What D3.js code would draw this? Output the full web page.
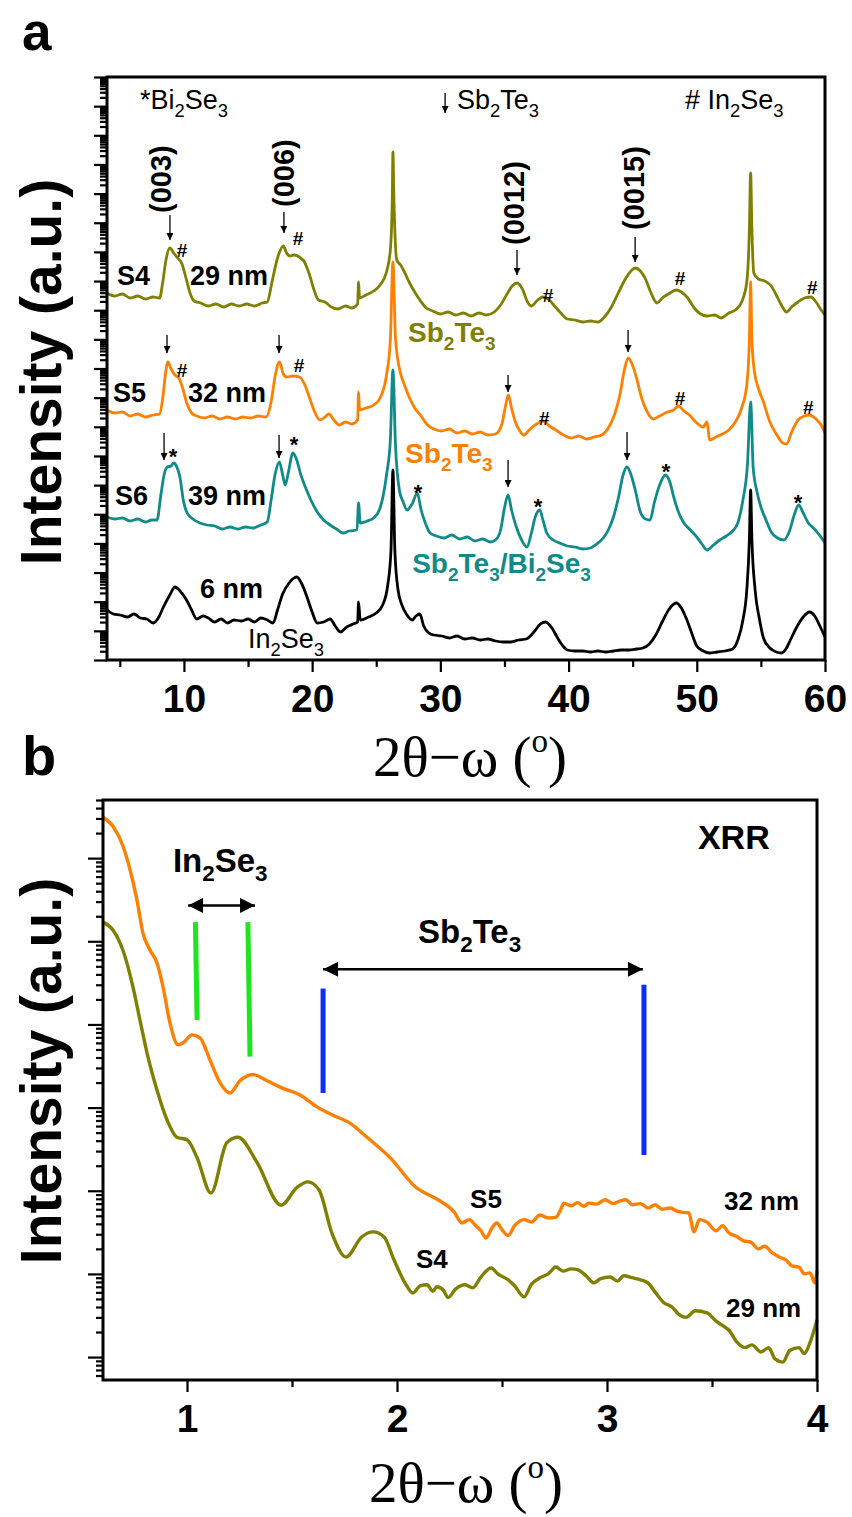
<!DOCTYPE html>
<html lang="en">
<head>
<meta charset="utf-8">
<title>XRD / XRR of Sb2Te3 on In2Se3</title>
<style>
  body { margin: 0; background: #fff; }
  svg text { font-family: "Liberation Sans", Arial, sans-serif; fill: #000; }
  .tick line { stroke: #000; stroke-width: 2.2; }
</style>
</head>
<body>
<script src="https://d3js.org/d3.v7.min.js"></script>
<script>
// ---------- panel a : XRD (2theta, intensity a.u. stacked) ----------
var xrdS4 = [[4.0,367],[4.6,364],[5.2,366],[5.8,362],[6.4,364],[7.0,361],[7.6,363],[8.1,362],[8.35,378],[8.6,400],[8.9,412],[9.2,407],[9.5,402],[9.85,396],[10.2,380],[10.5,366],[10.8,359],[11.3,357],[11.9,354],[12.5,356],[13.1,353],[13.7,356],[14.3,354],[14.9,356],[15.5,354],[16.1,357],[16.5,358],[16.9,380],[17.3,402],[17.75,414],[18.05,406],[18.3,404],[18.6,405],[19.0,403],[19.4,398],[19.8,385],[20.2,368],[20.5,360],[21.0,358],[21.5,353],[22.0,351],[22.6,354],[23.1,352],[23.55,356],[23.62,378],[23.7,362],[24.2,365],[24.8,369],[25.3,375],[25.8,388],[26.1,410],[26.25,460],[26.3,508],[26.38,460],[26.6,400],[26.9,395],[27.2,388],[27.6,377],[28.0,368],[28.4,360],[28.9,352],[29.4,349],[30.0,346],[30.6,348],[31.2,345],[31.8,347],[32.4,344],[33.0,347],[33.6,345],[34.2,348],[34.7,355],[35.2,366],[35.6,374],[36.0,377],[36.4,371],[36.8,358],[37.1,354],[37.6,360],[38.0,363],[38.5,360],[38.9,354],[39.4,347],[39.9,341],[40.5,340],[41.1,338],[41.7,339],[42.3,338],[42.8,343],[43.3,352],[43.8,365],[44.3,378],[44.8,388],[45.2,392],[45.6,389],[46.0,381],[46.4,368],[46.9,357],[47.3,362],[47.8,366],[48.4,370],[48.8,368],[49.3,362],[49.8,352],[50.3,346],[50.8,344],[51.4,345],[51.9,342],[52.5,347],[53.0,350],[53.5,358],[53.9,378],[54.1,430],[54.2,487],[54.3,430],[54.45,387],[54.8,381],[55.3,379],[55.8,374],[56.2,365],[56.6,355],[57.0,348],[57.4,353],[57.9,358],[58.4,362],[58.9,363],[59.3,358],[59.7,350],[60.0,345]];
var xrdS5 = [[4.0,250],[4.6,247],[5.2,248],[5.8,244],[6.4,246],[7.0,243],[7.6,245],[8.1,246],[8.35,262],[8.55,285],[8.75,298],[9.0,291],[9.3,285],[9.6,282],[9.9,272],[10.2,258],[10.6,247],[11.0,244],[11.6,242],[12.2,244],[12.8,241],[13.4,243],[14.0,241],[14.6,243],[15.2,242],[15.8,244],[16.4,243],[16.8,258],[17.1,283],[17.45,298],[17.75,286],[18.0,283],[18.5,284],[19.0,283],[19.4,276],[19.8,262],[20.2,248],[20.6,240],[21.0,243],[21.3,246],[21.7,240],[22.1,235],[22.6,238],[23.1,236],[23.55,240],[23.62,268],[23.7,250],[24.2,252],[24.8,255],[25.3,262],[25.8,285],[26.1,320],[26.3,398],[26.5,322],[26.8,292],[27.2,275],[27.6,262],[28.0,252],[28.5,244],[29.0,235],[29.5,231],[30.1,229],[30.7,231],[31.3,227],[31.9,229],[32.5,226],[33.1,228],[33.7,225],[34.3,226],[34.8,236],[35.1,255],[35.3,265],[35.55,252],[35.85,238],[36.2,229],[36.5,225],[37.0,231],[37.5,236],[38.0,239],[38.5,234],[39.0,230],[39.6,225],[40.2,222],[40.8,224],[41.4,221],[42.0,223],[42.6,225],[43.1,232],[43.6,246],[44.0,265],[44.35,290],[44.65,302],[44.95,296],[45.3,282],[45.7,262],[46.1,249],[46.6,241],[47.1,244],[47.7,248],[48.2,250],[48.55,254],[49.0,249],[49.5,244],[50.0,237],[50.5,233],[50.8,238],[51.0,220],[51.5,223],[52.0,226],[52.5,230],[53.0,238],[53.5,252],[53.9,275],[54.1,320],[54.2,378],[54.3,320],[54.5,288],[54.8,272],[55.2,258],[55.7,238],[56.2,226],[56.7,217],[57.0,216],[57.4,228],[57.9,240],[58.4,244],[58.8,245],[59.3,241],[59.7,235],[60.0,227]];
var xrdS6 = [[4.0,143],[4.6,141],[5.2,142],[5.8,139],[6.4,141],[7.0,138],[7.5,140],[7.9,140],[8.2,165],[8.45,185],[8.7,193],[9.0,194],[9.2,197],[9.45,193],[9.7,182],[9.95,160],[10.25,147],[10.7,141],[11.25,137],[11.8,135],[12.4,134],[13.0,131],[13.6,133],[14.2,131],[14.8,133],[15.4,132],[16.0,135],[16.5,138],[16.8,160],[17.1,185],[17.45,198],[17.7,185],[17.9,175],[18.15,188],[18.5,207],[18.8,200],[19.1,186],[19.5,172],[19.9,160],[20.4,148],[20.9,140],[21.4,135],[21.9,131],[22.4,127],[22.9,129],[23.5,130],[23.62,157],[23.75,137],[24.3,139],[24.8,142],[25.3,152],[25.8,185],[26.1,220],[26.3,290],[26.5,215],[26.8,170],[27.1,158],[27.4,150],[27.8,156],[28.2,167],[28.5,150],[28.8,138],[29.2,127],[29.7,124],[30.3,122],[30.9,125],[31.5,121],[32.1,123],[32.7,119],[33.3,121],[33.9,118],[34.3,120],[34.7,130],[35.0,152],[35.28,165],[35.55,150],[35.9,134],[36.3,121],[36.75,113],[37.1,127],[37.4,143],[37.75,150],[38.0,140],[38.3,127],[38.8,120],[39.3,117],[39.9,114],[40.5,113],[41.1,111],[41.7,112],[42.2,116],[42.7,122],[43.1,130],[43.5,143],[43.9,163],[44.25,185],[44.55,193],[44.85,186],[45.2,170],[45.6,148],[46.0,141],[46.35,140],[46.7,158],[47.1,175],[47.55,185],[47.9,178],[48.2,163],[48.6,147],[49.0,137],[49.5,130],[50.0,123],[50.4,116],[50.8,110],[51.3,115],[51.8,120],[52.3,124],[52.8,129],[53.2,137],[53.6,160],[53.95,195],[54.2,258],[54.4,192],[54.7,168],[55.0,153],[55.4,140],[55.8,128],[56.3,122],[56.8,120],[57.2,128],[57.6,145],[57.95,155],[58.3,147],[58.7,137],[59.1,132],[59.5,126],[60.0,117]];
var xrdIn2Se3 = [[4.0,50],[4.5,46],[5.0,45],[5.6,43],[6.1,46],[6.6,42],[7.1,41],[7.6,37],[8.0,42],[8.4,53],[8.9,65],[9.3,73],[9.7,69],[10.2,60],[10.6,50],[11.0,41],[11.5,44],[11.9,42],[12.4,38],[12.9,41],[13.4,37],[13.9,40],[14.5,39],[15.0,41],[15.5,38],[16.0,42],[16.5,40],[16.95,37],[17.3,50],[17.7,66],[18.2,77],[18.8,83],[19.2,76],[19.6,63],[20.0,48],[20.4,37],[20.9,38],[21.4,41],[21.8,34],[22.2,28],[22.7,33],[23.2,36],[23.55,38],[23.62,58],[23.75,40],[24.4,43],[25.0,47],[25.5,55],[25.9,75],[26.15,110],[26.3,190],[26.45,110],[26.7,70],[27.0,55],[27.4,45],[27.8,40],[28.1,44],[28.4,46],[28.7,34],[29.1,27],[29.5,25],[30.1,24],[30.7,22],[31.3,24],[31.9,21],[32.5,22],[33.1,20],[33.7,21],[34.3,19],[34.9,18],[35.5,18],[36.1,20],[36.7,21],[37.3,28],[37.8,36],[38.2,38],[38.7,32],[39.1,23],[39.5,15],[39.9,10],[40.5,9],[41.1,9],[41.7,8],[42.3,9],[42.9,8],[43.5,9],[44.1,10],[44.7,10],[45.3,11],[45.8,12],[46.3,16],[46.8,25],[47.3,38],[47.8,50],[48.4,57],[48.8,52],[49.2,41],[49.6,27],[50.0,14],[50.5,9],[51.0,7],[51.6,8],[52.2,9],[52.8,11],[53.2,20],[53.6,40],[53.9,70],[54.1,120],[54.2,170],[54.3,120],[54.55,70],[54.9,40],[55.2,22],[55.7,12],[56.2,8],[56.6,7],[57.0,12],[57.3,20],[57.8,33],[58.3,43],[58.8,48],[59.2,44],[59.6,34],[60.0,23]];
var xrdTicks = [10, 20, 30, 40, 50, 60];
var xrdMinorTicks = [5, 15, 25, 35, 45, 55];

// annotations, panel a (x in degrees, y in a.u.)
var millerLabels = [["(003)", 8.29, 447], ["(006)", 17.88, 453], ["(0012)", 35.83, 415], ["(0015)", 45.19, 430]];
var peakArrows = [[8.91,445,420],[17.8,448,427],[35.98,410,385],[45.19,423,398],
                  [8.68,325,307],[17.42,325,307],[35.28,285,268],[44.64,330,308],
                  [8.45,227,200],[17.42,225,202],[35.28,200,173],[44.56,228,200],
                  [30.37,567,547]];
var hashMarks = [[9.85,410],[18.9,422],[38.4,365],[48.7,382],[59.0,373],
                 [9.85,290],[18.98,295],[38.1,242],[48.7,262],[58.7,253]];
var starMarks = [[9.15,208],[18.59,220],[28.26,172],[37.62,158],[47.6,193],[57.9,162]];
var sampleLabels = [["S4",4.78,375],["29 nm",10.47,375],["S5",4.47,258],["32 nm",10.32,258],
                    ["S6",4.62,155],["39 nm",10.32,155],["6 nm",11.25,62]];

// ---------- panel b : XRR (2theta, log intensity) ----------
var xrrS5 = [[0.60,3.1e7],[0.648,2.4e7],[0.695,1.4e7],[0.729,7.2e6],[0.762,3.1e6],[0.79,1.26e6],[0.824,7.8e5],[0.857,5.5e5],[0.886,2.8e5],[0.919,1.04e5],[0.957,5.7e4],[0.981,6.0e4],[1.024,7.5e4],[1.062,6.9e4],[1.11,3.7e4],[1.157,2.0e4],[1.205,1.5e4],[1.252,2.1e4],[1.314,2.5e4],[1.381,2.1e4],[1.457,1.7e4],[1.538,1.42e4],[1.619,1.02e4],[1.695,8.1e3],[1.776,6.5e3],[1.857,4.4e3],[1.967,2.5e3],[2.09,1.1e3],[2.195,7.8e2],[2.271,560],[2.31,410],[2.345,450],[2.371,390],[2.40,330],[2.424,270],[2.45,350],[2.476,410],[2.50,340],[2.529,290],[2.56,380],[2.605,450],[2.64,420],[2.681,510],[2.72,470],[2.757,480],[2.78,600],[2.795,710],[2.83,660],[2.86,720],[2.89,650],[2.914,710],[2.95,690],[2.99,780],[3.03,700],[3.06,750],[3.09,780],[3.12,680],[3.16,700],[3.195,620],[3.23,680],[3.26,600],[3.3,620],[3.34,560],[3.39,540],[3.414,320],[3.44,450],[3.476,420],[3.52,330],[3.55,380],[3.581,310],[3.62,280],[3.65,250],[3.686,240],[3.72,200],[3.75,215],[3.786,180],[3.82,160],[3.852,147],[3.88,125],[3.914,121],[3.94,100],[3.967,103],[3.99,78],[4.0,110]];
var xrrS4 = [[0.60,1.7e6],[0.648,1.36e6],[0.695,7.8e5],[0.743,2.8e5],[0.776,1.13e5],[0.81,4.5e4],[0.857,1.63e4],[0.905,7.1e3],[0.952,4.4e3],[1.0,4.1e3],[1.048,2.5e3],[1.114,9.4e2],[1.19,3.8e3],[1.243,4.4e3],[1.333,2.2e3],[1.448,6.7e2],[1.524,1.1e3],[1.576,1.28e3],[1.629,1.02e3],[1.69,3.1e2],[1.757,1.6e2],[1.833,2.8e2],[1.886,3.2e2],[1.938,2.8e2],[1.986,1.47e2],[2.038,78],[2.076,59],[2.11,72],[2.143,74],[2.17,62],[2.19,70],[2.22,64],[2.243,52],[2.28,66],[2.324,74],[2.36,68],[2.4,92],[2.448,118],[2.48,100],[2.529,85],[2.56,72],[2.605,53],[2.64,75],[2.681,90],[2.72,100],[2.757,121],[2.79,108],[2.83,115],[2.862,112],[2.9,95],[2.938,78],[2.97,88],[3.014,92],[3.05,82],[3.08,95],[3.119,90],[3.16,85],[3.195,78],[3.23,60],[3.271,45],[3.31,40],[3.34,33],[3.376,30],[3.42,36],[3.476,34],[3.52,27],[3.55,24],[3.581,21],[3.62,15],[3.657,13],[3.69,14],[3.733,11.5],[3.77,13],[3.8,9.5],[3.838,8.7],[3.87,12],[3.914,13],[3.94,11],[3.967,15],[4.0,28]];
var xrrTicks = [1, 2, 3, 4];
var xrrMinorTicks = [1.5, 2.5, 3.5];
// fringe markers: [x top, x bottom, y top, y bottom]
var greenMarks = [[1.04,1.048,1.7e6,1.13e5],[1.29,1.30,1.7e6,4.1e4]];
var blueMarks = [[1.648,1.648,2.7e5,1.5e4],[3.176,3.176,3.0e5,2.7e3]];
// double arrows: [x1, x2, y]
var spanArrows = [[1.005,1.324,2.7e6],[1.648,3.171,4.6e5]];

var colS4 = "#7f7f00", colS5 = "#ff7f00", colS6 = "#118a8a";

var w = 852, h = 1517;
var svg = d3.select("body").append("svg").attr("width", w).attr("height", h);

var defs = svg.append("defs");
defs.append("marker").attr("id", "headS")
    .attr("viewBox", "0 0 10 10").attr("refX", 10).attr("refY", 5)
    .attr("markerUnits", "userSpaceOnUse").attr("markerWidth", 9).attr("markerHeight", 7)
    .attr("orient", "auto")
    .append("path").attr("d", "M0,0L10,5L0,10z").attr("fill", "#000");
defs.append("marker").attr("id", "headL")
    .attr("viewBox", "0 0 10 10").attr("refX", 10).attr("refY", 5)
    .attr("markerUnits", "userSpaceOnUse").attr("markerWidth", 16).attr("markerHeight", 15)
    .attr("orient", "auto-start-reverse")
    .append("path").attr("d", "M0,0L10,5L0,10z").attr("fill", "#000");

// digits become subscripts
function chem(sel, str, size) {
    var sub = false;
    str.match(/\d+|\D+/g).forEach(function(p) {
        var isSub = /^\d+$/.test(p);
        var t = sel.append("tspan").text(p).attr("font-size", isSub ? size * 0.68 : size);
        if (isSub && !sub) t.attr("dy", size * 0.28);
        if (!isSub && sub) t.attr("dy", -size * 0.28);
        sub = isSub;
    });
    return sel;
}

function logMinors(lo, hi) {
    var out = [];
    d3.range(lo, hi).forEach(function(e) {
        d3.range(2, 10).forEach(function(k) { out.push(k * Math.pow(10, e)); });
    });
    return out;
}

function bottomTitle(cx, cy) {
    var t = svg.append("text").attr("x", cx).attr("y", cy)
        .attr("text-anchor", "middle")
        .style("font-family", "'Liberation Serif', 'Times New Roman', serif")
        .attr("font-size", 57);
    t.append("tspan").text("2θ−ω (");
    t.append("tspan").text("o").attr("font-size", 33).attr("dy", -24);
    t.append("tspan").text(")").attr("dy", 24);
}

function yTitle(cx, cy) {
    svg.append("text")
        .attr("transform", "translate(" + cx + "," + cy + ") rotate(-90)")
        .attr("text-anchor", "middle").attr("font-size", 57).attr("font-weight", "bold")
        .text("Intensity (a.u.)");
}

function styleAxis(g, fs) {
    g.select(".domain").remove();
    g.selectAll("text").attr("font-size", fs).attr("font-weight", "bold").attr("fill", "#000")
        .style("font-family", "'Liberation Sans', Arial, sans-serif");
}

// ================= panel a =================
var xA = d3.scaleLinear().domain([4, 60]).range([107, 825]);
var yA = d3.scaleLinear().domain([0, 583]).range([660, 77]);
var yAticks = d3.scaleLog().domain([1, 1e20]).range([660, 77]);

svg.append("text").attr("x", 22).attr("y", 50).attr("font-size", 53).attr("font-weight", "bold").text("a");

svg.append("g").attr("transform", "translate(0,660)")
    .call(d3.axisBottom(xA).tickValues(xrdTicks).tickSize(12).tickPadding(12).tickFormat(d3.format("d")))
    .call(styleAxis, 39);
svg.append("g").attr("transform", "translate(0,660)")
    .call(d3.axisBottom(xA).tickValues(xrdMinorTicks).tickSize(7).tickFormat(""))
    .call(styleAxis, 39);
svg.append("g").attr("transform", "translate(107,0)")
    .call(d3.axisLeft(yAticks).tickValues(d3.range(0, 21).map(function(e) { return Math.pow(10, e); })).tickSize(13).tickFormat(""))
    .call(styleAxis, 10);
svg.append("g").attr("transform", "translate(107,0)")
    .call(d3.axisLeft(yAticks).tickValues(logMinors(0, 20)).tickSize(7).tickFormat(""))
    .call(styleAxis, 10);

var lineA = d3.line().x(function(d) { return xA(d[0]); }).y(function(d) { return yA(d[1]); })
    .curve(d3.curveMonotoneX);
[[xrdS4, colS4], [xrdS5, colS5], [xrdS6, colS6], [xrdIn2Se3, "#000"]].forEach(function(s) {
    svg.append("path").datum(s[0]).attr("d", lineA)
        .attr("fill", "none").attr("stroke", s[1]).attr("stroke-width", 2.8)
        .attr("stroke-linejoin", "round");
});

svg.append("rect").attr("x", 107).attr("y", 77).attr("width", 825 - 107).attr("height", 660 - 77)
    .attr("fill", "none").attr("stroke", "#000").attr("stroke-width", 3);

yTitle(61, 372);
bottomTitle(470, 776);

// legend line
chem(svg.append("text").attr("x", xA(6.57)).attr("y", yA(551)), "*Bi2Se3", 27);
chem(svg.append("text").attr("x", xA(31.3)).attr("y", yA(551)), "Sb2Te3", 27);
chem(svg.append("text").attr("x", xA(49.08)).attr("y", yA(551)), "# In2Se3", 27);

peakArrows.forEach(function(a) {
    svg.append("line")
        .attr("x1", xA(a[0])).attr("x2", xA(a[0]))
        .attr("y1", yA(a[1])).attr("y2", yA(a[2]))
        .attr("stroke", "#000").attr("stroke-width", 1.3)
        .attr("marker-end", "url(#headS)");
});

millerLabels.forEach(function(m) {
    svg.append("text")
        .attr("transform", "translate(" + (xA(m[1]) + 9) + "," + yA(m[2]) + ") rotate(-90)")
        .attr("font-size", 29).attr("font-weight", "bold").text(m[0]);
});

hashMarks.forEach(function(p) {
    svg.append("text").attr("x", xA(p[0])).attr("y", yA(p[1])).attr("dy", "0.36em")
        .attr("text-anchor", "middle").attr("font-size", 19).attr("font-weight", "bold").text("#");
});
starMarks.forEach(function(p) {
    svg.append("text").attr("x", xA(p[0])).attr("y", yA(p[1])).attr("dy", "0.55em")
        .attr("text-anchor", "middle").attr("font-size", 22).attr("font-weight", "bold").text("*");
});

sampleLabels.forEach(function(l) {
    svg.append("text").attr("x", xA(l[1])).attr("y", yA(l[2]))
        .attr("font-size", 27).attr("font-weight", "bold").text(l[0]);
});

chem(svg.append("text").attr("x", xA(15.0)).attr("y", yA(12)), "In2Se3", 27);
chem(svg.append("text").attr("x", xA(27.48)).attr("y", yA(318)).attr("font-weight", "bold"), "Sb2Te3", 28)
    .selectAll("tspan").attr("fill", colS4);
chem(svg.append("text").attr("x", xA(27.25)).attr("y", yA(197)).attr("font-weight", "bold"), "Sb2Te3", 28)
    .selectAll("tspan").attr("fill", colS5);
chem(svg.append("text").attr("x", xA(27.8)).attr("y", yA(87)).attr("font-weight", "bold"), "Sb2Te3/Bi2Se3", 28)
    .selectAll("tspan").attr("fill", colS6);

// ================= panel b =================
var xB = d3.scaleLinear().domain([0.6, 4]).range([103, 817]);
var yB = d3.scaleLog().domain([5.3, 5e7]).range([1380, 800]);

svg.append("text").attr("x", 22).attr("y", 775).attr("font-size", 56).attr("font-weight", "bold").text("b");

svg.append("g").attr("transform", "translate(0,1380)")
    .call(d3.axisBottom(xB).tickValues(xrrTicks).tickSize(12).tickPadding(12).tickFormat(d3.format("d")))
    .call(styleAxis, 39);
svg.append("g").attr("transform", "translate(0,1380)")
    .call(d3.axisBottom(xB).tickValues(xrrMinorTicks).tickSize(7).tickFormat(""))
    .call(styleAxis, 39);
var decB = d3.range(1, 8).map(function(e) { return Math.pow(10, e); });
svg.append("g").attr("transform", "translate(103,0)")
    .call(d3.axisLeft(yB).tickValues(decB).tickSize(15).tickFormat(""))
    .call(styleAxis, 10);
svg.append("g").attr("transform", "translate(103,0)")
    .call(d3.axisLeft(yB).tickValues(logMinors(0, 8).filter(function(v) { return v >= 5.3 && v <= 5e7; })).tickSize(7).tickFormat(""))
    .call(styleAxis, 10);

var lineB = d3.line().x(function(d) { return xB(d[0]); }).y(function(d) { return yB(d[1]); })
    .curve(d3.curveMonotoneX);
[[xrrS4, colS4], [xrrS5, colS5]].forEach(function(s) {
    svg.append("path").datum(s[0]).attr("d", lineB)
        .attr("fill", "none").attr("stroke", s[1]).attr("stroke-width", 3.4)
        .attr("stroke-linejoin", "round");
});

greenMarks.forEach(function(m) {
    svg.append("line").attr("x1", xB(m[0])).attr("x2", xB(m[1])).attr("y1", yB(m[2])).attr("y2", yB(m[3]))
        .attr("stroke", "#1ee61e").attr("stroke-width", 5);
});
blueMarks.forEach(function(m) {
    svg.append("line").attr("x1", xB(m[0])).attr("x2", xB(m[1])).attr("y1", yB(m[2])).attr("y2", yB(m[3]))
        .attr("stroke", "#0a2cff").attr("stroke-width", 5);
});
spanArrows.forEach(function(a) {
    svg.append("line").attr("x1", xB(a[0])).attr("x2", xB(a[1])).attr("y1", yB(a[2])).attr("y2", yB(a[2]))
        .attr("stroke", "#000").attr("stroke-width", 2.5)
        .attr("marker-start", "url(#headL)").attr("marker-end", "url(#headL)");
});

svg.append("rect").attr("x", 103).attr("y", 800).attr("width", 817 - 103).attr("height", 1380 - 800)
    .attr("fill", "none").attr("stroke", "#000").attr("stroke-width", 3);

yTitle(61, 1071);
bottomTitle(466, 1502);

svg.append("text").attr("x", xB(3.433)).attr("y", yB(1.3e7)).attr("font-size", 34).attr("font-weight", "bold").text("XRR");
chem(svg.append("text").attr("x", xB(0.933)).attr("y", yB(6.8e6)).attr("font-weight", "bold"), "In2Se3", 33);
chem(svg.append("text").attr("x", xB(2.1)).attr("y", yB(9.6e5)).attr("font-weight", "bold"), "Sb2Te3", 33);
[["S5", 2.348, 6.2e2], ["32 nm", 3.557, 5.9e2], ["S4", 2.09, 1.18e2], ["29 nm", 3.567, 30]].forEach(function(l) {
    svg.append("text").attr("x", xB(l[1])).attr("y", yB(l[2]))
        .attr("font-size", 26).attr("font-weight", "bold").text(l[0]);
});
</script>
</body>
</html>
